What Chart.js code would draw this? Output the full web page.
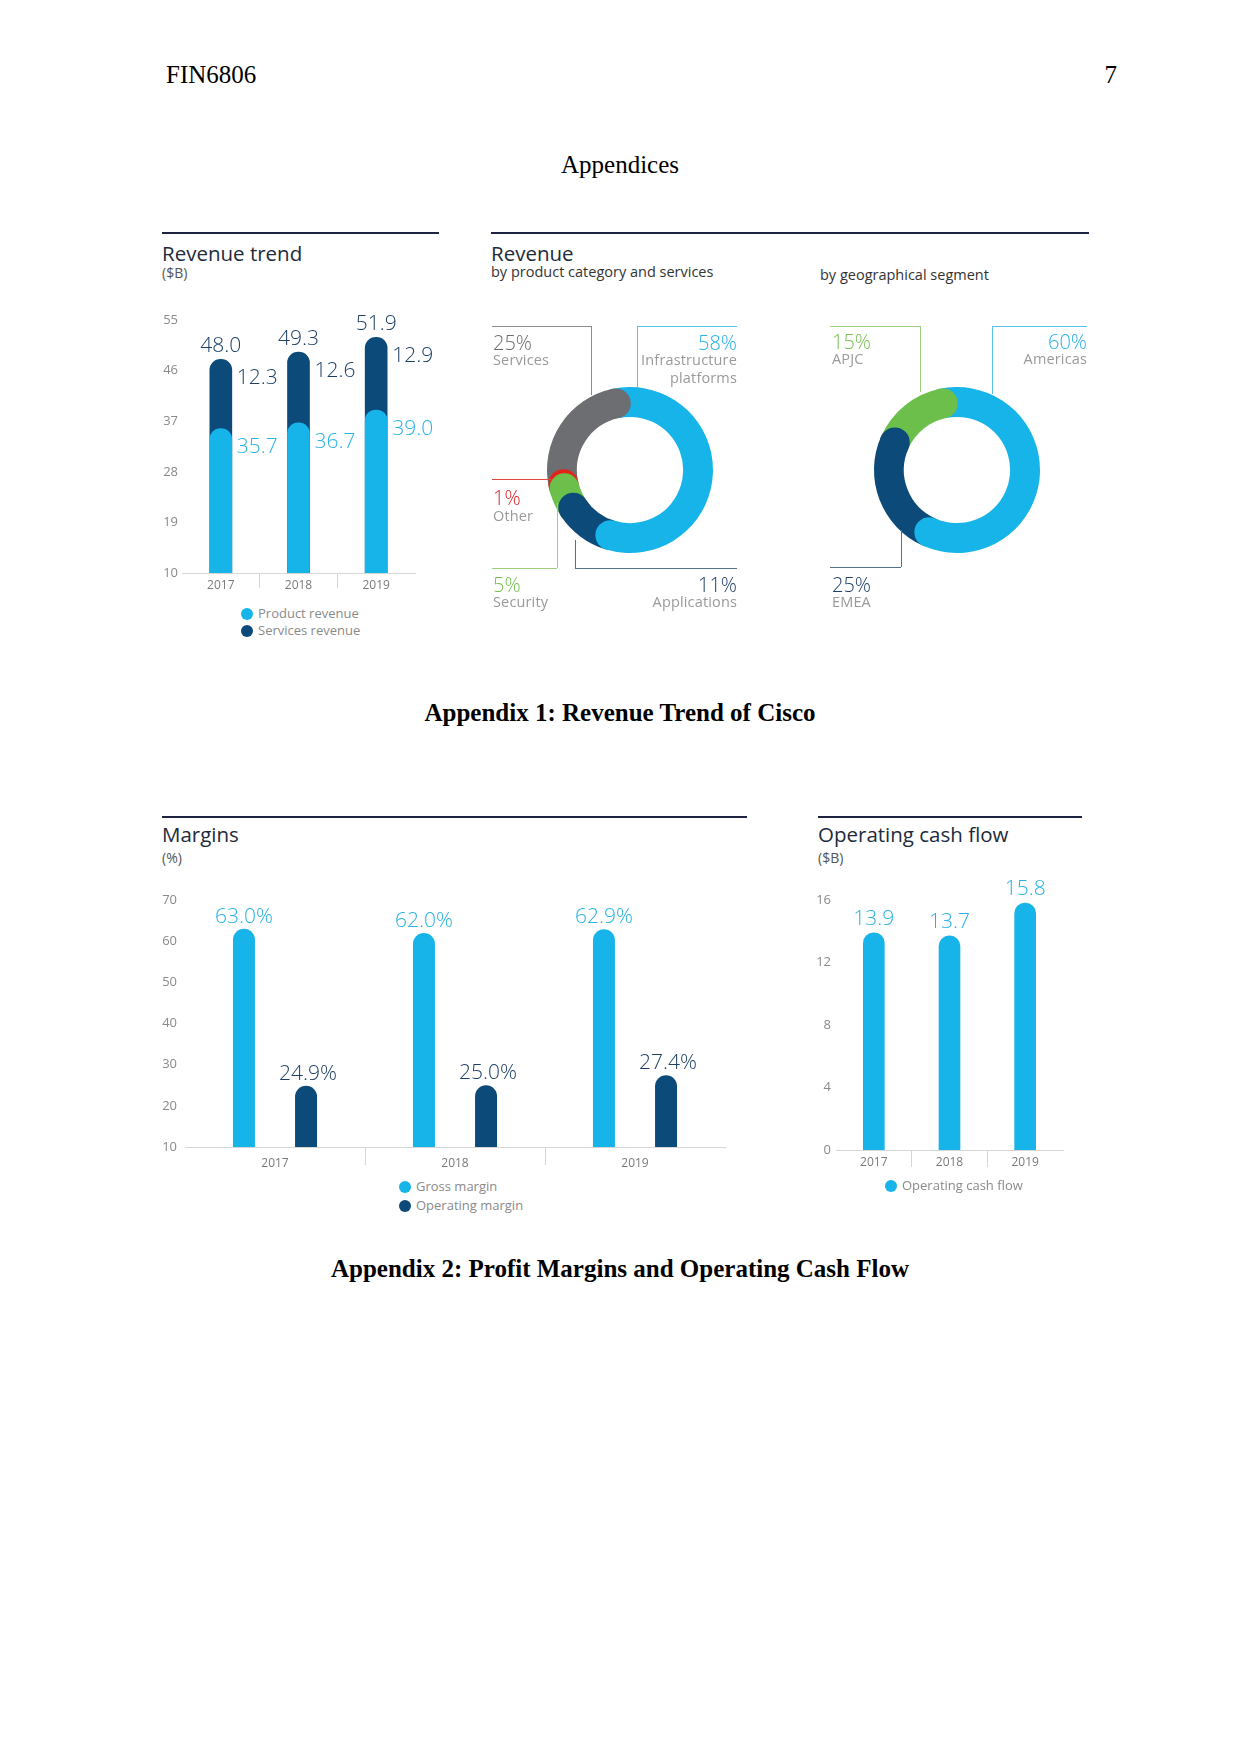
<!DOCTYPE html>
<html>
<head>
<meta charset="utf-8">
<title>FIN6806 Appendices</title>
<script src="https://cdn.jsdelivr.net/npm/chart.js@4.4.1/dist/chart.umd.min.js"></script>
<style>
	html, body { margin: 0; padding: 0; background: #fff; }
	#page { position: relative; width: 1241px; height: 1754px; overflow: hidden; background: #fff; }
	.txt { position: absolute; white-space: nowrap; line-height: 0.85; }
	.rule { position: absolute; height: 2px; background: #1f2440; }
	.lead { position: absolute; }
	.dot { position: absolute; width: 12px; height: 12px; border-radius: 50%; }
	canvas { position: absolute; }
</style>
</head>
<body>
<div id="page">
	<canvas id="revenueTrendChart" width="290" height="300" style="left:155px;top:300px"></canvas>
	<canvas id="categoryChart" width="180" height="180" style="left:540px;top:380px"></canvas>
	<canvas id="regionChart" width="180" height="180" style="left:867px;top:380px"></canvas>
	<canvas id="marginsChart" width="590" height="295" style="left:150px;top:880px"></canvas>
	<canvas id="cashFlowChart" width="275" height="298" style="left:800px;top:880px"></canvas>
</div>
<script>
const years = ['2017', '2018', '2019'];

const productRevenue = [35.7, 36.7, 39.0];
const servicesRevenue = [12.3, 12.6, 12.9];
const revenueTicks = [10, 19, 28, 37, 46, 55];
const revenueSeries = ['Product revenue', 'Services revenue'];

const categoryLabels = ['Infrastructure platforms', 'Applications', 'Security', 'Other', 'Services'];
const categoryShares = [58, 11, 5, 1, 25];

const regionLabels = ['Americas', 'EMEA', 'APJC'];
const regionShares = [60, 25, 15];

const grossMargin = [63.0, 62.0, 62.9];
const operatingMargin = [24.9, 25.0, 27.4];
const marginTicks = [10, 20, 30, 40, 50, 60, 70];
const marginSeries = ['Gross margin', 'Operating margin'];

const operatingCashFlow = [13.9, 13.7, 15.8];
const cashFlowTicks = [0, 4, 8, 12, 16];
const cashFlowSeries = ['Operating cash flow'];

(() => {
	'use strict'

	const page = document.getElementById('page');
	const sans = '"Open Sans", "Noto Sans", sans-serif';
	const serif = '"Liberation Serif", "Times New Roman", serif';
	const lineHeight = 0.85;

	const lightBlue = '#16b4e9';
	const navy = '#0c4a79';
	const green = '#6dbf4b';
	const grey = '#6c6e71';
	const red = '#e2231a';
	const labelNavy = '#1d3f66';
	const labelBlue = '#27b2e3';
	const tickGrey = '#8a8a8a';
	const nameGrey = '#9a9a9a';

	function addText(text, x, cy, size, color, opts = {}) {
		const el = document.createElement('div');
		const isSerif = !!opts.serif;
		el.className = 'txt';
		el.textContent = text;
		el.style.fontFamily = isSerif ? serif : sans;
		el.style.fontSize = size + 'px';
		el.style.fontWeight = opts.bold ? '700' : (opts.weight || '400');
		el.style.color = color;
		if (opts.spacing) {
			el.style.letterSpacing = opts.spacing + 'px';
		}
		// cap-height centre sits this far below the box top
		const capOffset = lineHeight / 2 + (isSerif ? 0.0065 : 0.031);
		el.style.top = (cy - size * capOffset) + 'px';
		if (opts.align === 'right') {
			el.style.right = (1241 - x) + 'px';
		} else if (opts.align === 'center') {
			el.style.left = (x - 400) + 'px';
			el.style.width = '800px';
			el.style.textAlign = 'center';
		} else {
			el.style.left = x + 'px';
		}
		page.appendChild(el);
	}

	function addRule(x1, x2, y) {
		const el = document.createElement('div');
		el.className = 'rule';
		el.style.left = x1 + 'px';
		el.style.width = (x2 - x1) + 'px';
		el.style.top = y + 'px';
		page.appendChild(el);
	}

	function addLine(x1, y1, x2, y2, color) {
		const el = document.createElement('div');
		el.className = 'lead';
		el.style.left = Math.min(x1, x2) + 'px';
		el.style.top = Math.min(y1, y2) + 'px';
		el.style.width = Math.max(Math.abs(x2 - x1), 1) + 'px';
		el.style.height = Math.max(Math.abs(y2 - y1), 1) + 'px';
		el.style.background = color;
		page.appendChild(el);
	}

	function addLegend(names, colors, x, y, gap) {
		names.forEach((name, i) => {
			const dot = document.createElement('div');
			dot.className = 'dot';
			dot.style.left = (x - 6) + 'px';
			dot.style.top = (y + i * gap - 6) + 'px';
			dot.style.background = colors[i];
			page.appendChild(dot);
			addText(name, x + 11, y + i * gap, 13, '#8a8a8a');
		});
	}

	function addName(text, x, cy, align) {
		addText(text, x, cy, 14.5, nameGrey, { align: align, spacing: 0.15 });
	}

	function addShare(text, x, cy, color, align) {
		addText(text, x, cy, 20, color, { align: align, weight: '300' });
	}

	// page text
	addText('FIN6806', 166, 75, 25, '#000', { serif: true });
	addText('7', 1117, 75, 25, '#000', { serif: true, align: 'right' });
	addText('Appendices', 620, 165, 25, '#000', { serif: true, align: 'center' });
	addText('Appendix 1: Revenue Trend of Cisco', 620, 713, 25, '#000', { serif: true, bold: true, align: 'center' });
	addText('Appendix 2: Profit Margins and Operating Cash Flow', 620, 1269, 25, '#000', { serif: true, bold: true, align: 'center' });

	// panel headers
	addRule(162, 439, 232);
	addText('Revenue trend', 162, 254, 20.5, '#222a3a');
	addText('($B)', 162, 273, 14, '#555');

	addRule(491, 1089, 232);
	addText('Revenue', 491, 254, 20.5, '#222a3a');
	addText('by product category and services', 491, 273, 14.5, '#333');
	addText('by geographical segment', 820, 276, 14.5, '#333');

	addRule(162, 747, 816);
	addText('Margins', 162, 835, 20.5, '#222a3a');
	addText('(%)', 162, 858, 14, '#555');

	addRule(818, 1082, 816);
	addText('Operating cash flow', 818, 835, 20.5, '#222a3a');
	addText('($B)', 818, 858, 14, '#555');

	// donut call-outs
	const pct = (v) => v + '%';
	addLine(492, 326, 591, 326, '#8c8c8c');
	addLine(591, 326, 591, 395, '#8c8c8c');
	addShare(pct(categoryShares[4]), 493, 343, '#6b6b6b');
	addName(categoryLabels[4], 493, 361);

	addLine(637, 326, 737, 326, '#5cc3e8');
	addLine(637, 326, 637, 388, '#5cc3e8');
	addShare(pct(categoryShares[0]), 737, 343, labelBlue, 'right');
	addName('Infrastructure', 737, 361, 'right');
	addName('platforms', 737, 379, 'right');

	addLine(492, 479, 552, 479, '#e0463f');
	addShare(pct(categoryShares[3]), 493, 498, '#d9262c');
	addName(categoryLabels[3], 493, 517);

	addLine(557, 503, 557, 568, '#9bcf7d');
	addLine(492, 568, 557, 568, '#9bcf7d');
	addShare(pct(categoryShares[2]), 493, 585, '#76bf4f');
	addName(categoryLabels[2], 493, 603);

	addLine(575, 540, 575, 568, '#55708c');
	addLine(575, 568, 737, 568, '#55708c');
	addShare(pct(categoryShares[1]), 737, 585, labelNavy, 'right');
	addName(categoryLabels[1], 737, 603, 'right');

	addLine(830, 326, 920, 326, '#9bcf7d');
	addLine(920, 326, 920, 392, '#9bcf7d');
	addShare(pct(regionShares[2]), 832, 342, '#76bf4f');
	addName(regionLabels[2], 832, 360);

	addLine(992, 326, 1087, 326, '#5cc3e8');
	addLine(992, 326, 992, 394, '#5cc3e8');
	addShare(pct(regionShares[0]), 1087, 342, labelBlue, 'right');
	addName(regionLabels[0], 1087, 360, 'right');

	addLine(901, 530, 901, 567, '#55708c');
	addLine(830, 567, 901, 567, '#55708c');
	addShare(pct(regionShares[1]), 832, 585, labelNavy);
	addName(regionLabels[1], 832, 603);

	// legends
	addLegend(revenueSeries, [lightBlue, navy], 247, 614, 17);
	addLegend(marginSeries, [lightBlue, navy], 405, 1187, 19);
	addLegend(cashFlowSeries, [lightBlue], 891, 1186, 19);

	Chart.defaults.font.family = sans;
	Chart.defaults.animation = false;

	function yAxis(ticks, width, padding) {
		return {
			min: ticks[0],
			max: ticks[ticks.length - 1],
			afterFit: (scale) => { scale.width = width; },
			afterBuildTicks: (scale) => { scale.ticks = ticks.map((v) => ({ value: v })); },
			grid: { display: false, drawTicks: false },
			border: { display: false },
			ticks: { color: tickGrey, font: { size: 13 }, padding: padding }
		};
	}

	function xAxis(height, tickLength, padding) {
		return {
			afterFit: (scale) => { scale.height = height; },
			grid: {
				drawOnChartArea: false,
				tickLength: tickLength,
				color: (ctx) => (ctx.type !== 'tick' || ctx.index === 0) ? 'rgba(0,0,0,0)' : '#d6d6d6'
			},
			border: { display: true, color: '#d6d6d6' },
			ticks: { color: '#7a7a7a', font: { size: 12 }, padding: padding }
		};
	}

	function drawLabel(ctx, text, x, y, color, align) {
		ctx.save();
		ctx.font = '300 21px ' + sans;
		ctx.fillStyle = color;
		ctx.textAlign = align;
		ctx.textBaseline = 'middle';
		ctx.fillText(text, x, y);
		ctx.restore();
	}

	const baseOptions = {
		responsive: false,
		plugins: { legend: { display: false }, tooltip: { enabled: false } }
	};

	// revenue trend
	const totalRevenue = productRevenue.map((v, i) => Math.round((v + servicesRevenue[i]) * 10) / 10);

	new Chart(document.getElementById('revenueTrendChart'), {
		type: 'bar',
		data: {
			labels: years,
			datasets: [
				{
					label: revenueSeries[0],
					data: productRevenue,
					backgroundColor: lightBlue,
					grouped: false,
					barThickness: 22,
					maxBarThickness: 22,
					borderRadius: 11,
					borderSkipped: 'start'
				},
				{
					label: revenueSeries[1],
					data: totalRevenue,
					backgroundColor: navy,
					grouped: false,
					barThickness: 22,
					maxBarThickness: 22,
					borderRadius: 11,
					borderSkipped: 'start'
				}
			]
		},
		options: {
			...baseOptions,
			layout: { padding: { left: 0, right: 30, top: 20, bottom: 0 } },
			scales: {
				x: xAxis(27, 15, -10),
				y: yAxis(revenueTicks, 27, 4)
			}
		},
		plugins: [{
			id: 'revenueLabels',
			afterDatasetsDraw(chart) {
				const productBars = chart.getDatasetMeta(0).data;
				const totalBars = chart.getDatasetMeta(1).data;
				productBars.forEach((bar, i) => {
					const top = totalBars[i];
					drawLabel(chart.ctx, totalRevenue[i].toFixed(1), top.x, top.y - 13, labelNavy, 'center');
					drawLabel(chart.ctx, servicesRevenue[i].toFixed(1), top.x + 16, top.y + 19, labelNavy, 'left');
					drawLabel(chart.ctx, productRevenue[i].toFixed(1), bar.x + 16, bar.y + 19, labelBlue, 'left');
				});
			}
		}]
	});

	// donuts with overlapping round ends
	const roundEnds = {
		id: 'roundEnds',
		afterDatasetsDraw(chart) {
			const meta = chart.getDatasetMeta(0);
			const ctx = chart.ctx;
			for (let i = meta.data.length - 1; i >= 0; i--) {
				const arc = meta.data[i];
				const { x, y, endAngle, innerRadius, outerRadius } = arc.getProps(['x', 'y', 'endAngle', 'innerRadius', 'outerRadius'], true);
				const mid = (innerRadius + outerRadius) / 2;
				ctx.save();
				ctx.fillStyle = arc.options.backgroundColor;
				ctx.beginPath();
				ctx.arc(x + mid * Math.cos(endAngle), y + mid * Math.sin(endAngle), (outerRadius - innerRadius) / 2, 0, Math.PI * 2);
				ctx.fill();
				ctx.restore();
			}
		}
	};

	function donut(id, labels, values, colors) {
		return new Chart(document.getElementById(id), {
			type: 'doughnut',
			data: {
				labels: labels,
				datasets: [{ data: values, backgroundColor: colors, borderWidth: 0 }]
			},
			options: {
				...baseOptions,
				cutout: '64%',
				rotation: -12,
				layout: { padding: 7 }
			},
			plugins: [roundEnds]
		});
	}

	donut('categoryChart', categoryLabels, categoryShares, [lightBlue, navy, green, red, grey]);
	donut('regionChart', regionLabels, regionShares, [lightBlue, navy, green]);

	// margins
	new Chart(document.getElementById('marginsChart'), {
		type: 'bar',
		data: {
			labels: years,
			datasets: [
				{
					label: marginSeries[0],
					data: grossMargin,
					backgroundColor: lightBlue,
					categoryPercentage: 0.69,
					barPercentage: 0.354,
					borderRadius: 11,
					borderSkipped: 'start'
				},
				{
					label: marginSeries[1],
					data: operatingMargin,
					backgroundColor: navy,
					categoryPercentage: 0.69,
					barPercentage: 0.354,
					borderRadius: 11,
					borderSkipped: 'start'
				}
			]
		},
		options: {
			...baseOptions,
			layout: { padding: { left: 0, right: 15, top: 20, bottom: 0 } },
			scales: {
				x: xAxis(28, 18, -9),
				y: yAxis(marginTicks, 35, 8)
			}
		},
		plugins: [{
			id: 'marginLabels',
			afterDatasetsDraw(chart) {
				chart.getDatasetMeta(0).data.forEach((bar, i) => {
					drawLabel(chart.ctx, grossMargin[i].toFixed(1) + '%', bar.x, bar.y - 12, labelBlue, 'center');
				});
				chart.getDatasetMeta(1).data.forEach((bar, i) => {
					drawLabel(chart.ctx, operatingMargin[i].toFixed(1) + '%', bar.x + 2, bar.y - 12, labelNavy, 'center');
				});
			}
		}]
	});

	// operating cash flow
	new Chart(document.getElementById('cashFlowChart'), {
		type: 'bar',
		data: {
			labels: years,
			datasets: [{
				label: cashFlowSeries[0],
				data: operatingCashFlow,
				backgroundColor: lightBlue,
				barThickness: 21,
				maxBarThickness: 21,
				borderRadius: 10.5,
				borderSkipped: 'start'
			}]
		},
		options: {
			...baseOptions,
			layout: { padding: { left: 0, right: 12, top: 20, bottom: 0 } },
			scales: {
				x: xAxis(28, 17, -12),
				y: yAxis(cashFlowTicks, 36, 5)
			}
		},
		plugins: [{
			id: 'cashFlowLabels',
			afterDatasetsDraw(chart) {
				chart.getDatasetMeta(0).data.forEach((bar, i) => {
					drawLabel(chart.ctx, operatingCashFlow[i].toFixed(1), bar.x, bar.y - 14, labelBlue, 'center');
				});
			}
		}]
	});
})()
</script>
</body>
</html>
